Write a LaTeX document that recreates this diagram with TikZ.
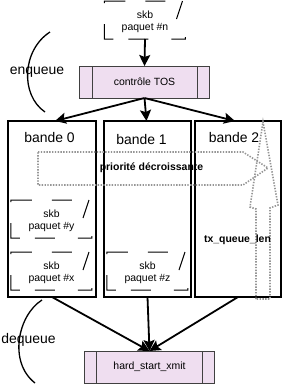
\documentclass[tikz,border=0pt]{standalone}
\usepackage{fontspec}
\setmainfont{Liberation Sans}
\usetikzlibrary{arrows.meta}
\definecolor{tosfill}{RGB}{239,222,240}
\definecolor{dotgray}{RGB}{150,150,150}
\tikzset{
  every node/.style={inner sep=0pt, outer sep=0pt},
  bandbox/.style={draw, line width=1.3bp, rectangle, minimum height=176bp},
  procbox/.style={draw=black!75, line width=1bp, fill=tosfill, rectangle,
    minimum width=129bp, minimum height=32bp, font=\fontsize{10.5}{12}\selectfont},
  skbnode/.style={rectangle, minimum width=81bp, minimum height=38bp, align=center,
    font=\fontsize{10.5}{12}\selectfont},
  bandlbl/.style={font=\fontsize{14}{16}\selectfont},
  sidelbl/.style={font=\fontsize{14}{16}\selectfont},
  boldlbl/.style={font=\fontsize{10.5}{12}\selectfont\bfseries},
  arr/.style={line width=1.8bp, -{Stealth[length=11bp,width=11bp,inset=2bp]}},
  dotarrow/.style={draw=dotgray, line width=1.6bp, dash pattern=on 1.4bp off 1.4bp},
  sidearc/.style={line width=1.3bp},
  skbframe/.pic={\draw[line width=1bp] (0,2)--(0,0)--(21,0) (41,0)--(61,0) (72,18)--(78,0)
     (0,23)--(0,38)--(9,38) (24,38)--(44,38) (67,38)--(81,38)--(81,36);}
}
\begin{document}
\begin{tikzpicture}[x=1bp,y=-1bp]
\useasboundingbox (0,0) rectangle (283,385);

% bands
\node[bandbox, minimum width=88bp] (band0) at (52,209) {};
\node[bandbox, minimum width=87bp] (band1) at (147.5,209) {};
\node[bandbox, minimum width=86bp] (band2) at (238,209) {};
\node[bandlbl] (lbl0) at (49.5,138) {bande 0};
\node[bandlbl] (lbl1) at (141.5,140) {bande 1};
\node[bandlbl] (lbl2) at (234,138) {bande 2};

% top skb
\node[skbnode] (skbn) at (145,22) {skb\\paquet \#n};
\pic at ([yshift=2bp]skbn.north west) {skbframe};

% skb boxes in bands
\node[skbnode] (skby) at (51.5,221) {skb\\paquet \#y};
\pic at ([yshift=2bp]skby.north west) {skbframe};
\node[skbnode] (skbx) at (51.5,273) {skb\\paquet \#x};
\pic at ([yshift=2bp]skbx.north west) {skbframe};
\node[skbnode] (skbz) at (147.5,273) {skb\\paquet \#z};
\pic at ([yshift=2bp]skbz.north west) {skbframe};

% process boxes
\node[procbox] (tos) at (144.5,82) {contrôle TOS};
\draw[draw=black!75, line width=1bp] ([xshift=13bp]tos.north west) -- ([xshift=13bp]tos.south west)
  ([xshift=-12bp]tos.north east) -- ([xshift=-12bp]tos.south east);
\node[procbox] (hsx) at (149.5,367) {hard\_start\_xmit};
\draw[draw=black!75, line width=1bp] ([xshift=12bp]hsx.north west) -- ([xshift=12bp]hsx.south west)
  ([xshift=-12bp]hsx.north east) -- ([xshift=-12bp]hsx.south east);

% arrows
\draw[arr] ([yshift=2bp]skbn.south) -- (tos.north);
\draw[arr] (tos.south) -- ([xshift=3bp]band0.north);
\draw[arr] (tos.south) -- ([xshift=-1bp]band1.north);
\draw[arr] (tos.south) -- ([xshift=-3bp]band2.north);
\draw[arr] (band0.south) -- (hsx.north);
\draw[arr] (band1.south) -- (hsx.north);
\draw[arr] (band2.south) -- (hsx.north);

% dotted arrows
\draw[dotarrow] (38,152) -- (243,152) -- (268,168) -- (243,185) -- (38,185) -- cycle;
\draw[dotarrow] (256,299) -- (256,209) -- (250,207) -- (263,122) -- (278,205) -- (270,208) -- (270,299) -- cycle;
\node[boldlbl] (prio) at (151.5,168) {priorité décroissante};
\node[boldlbl] (txq) at (237.5,240) {tx\_queue\_len};

% side arcs
\draw[sidearc] (50,32) .. controls (22,50) and (20,95) .. (45,112);
\node[sidelbl] (enq) at (37,72) {enqueue};
\draw[sidearc] (42,300) .. controls (18,315) and (8,362) .. (35,383);
\node[sidelbl] (deq) at (28.5,340) {dequeue};
\end{tikzpicture}
\end{document}
